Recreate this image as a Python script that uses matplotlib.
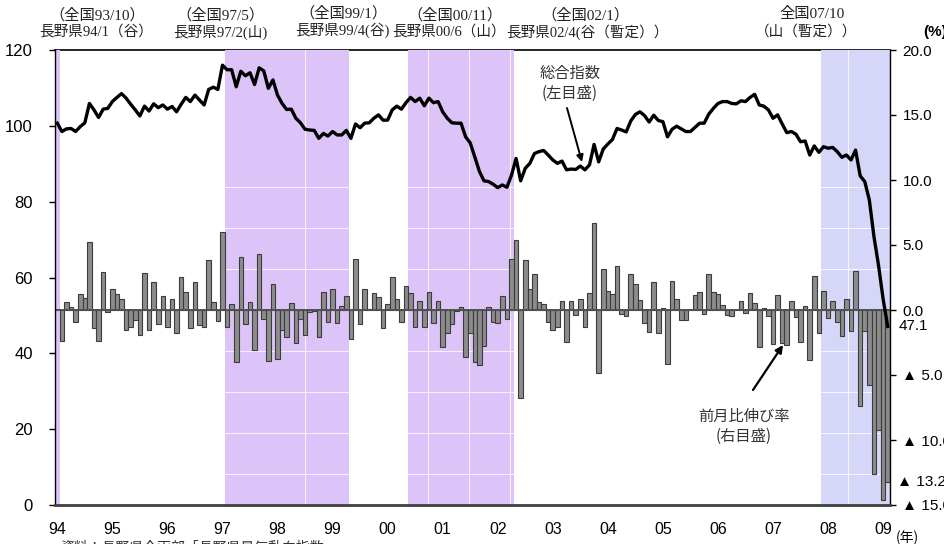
import numpy as np
import matplotlib
matplotlib.use("Agg")
import matplotlib.pyplot as plt
from matplotlib.transforms import blended_transform_factory

plt.rcParams["font.family"] = ["Liberation Sans", "Noto Sans CJK JP", "DejaVu Sans"]

# 長野県景気動向指数 一致指数(CI) 1994/1 - 2009/2 (左目盛)
ci_94 = [100.7, 98.5, 99.2, 99.3, 98.5, 99.8, 100.8, 105.9, 104.2, 102.2, 104.4, 104.6]
ci_95 = [106.4, 107.5, 108.5, 107.3, 105.7, 104.2, 102.6, 105.2, 103.9, 105.8, 104.8, 105.5]
ci_96 = [104.4, 105.1, 103.7, 105.7, 107.5, 106.4, 108.1, 106.8, 105.5, 109.6, 110.2, 109.6]
ci_97 = [116.0, 114.8, 114.8, 110.3, 114.4, 113.2, 114.0, 110.9, 115.3, 114.5, 109.9, 112.1]
ci_98 = [108.1, 105.9, 104.3, 104.4, 102.0, 100.8, 99.1, 98.9, 98.8, 96.7, 98.0, 97.3]
ci_99 = [98.5, 97.6, 97.6, 98.8, 96.7, 100.5, 99.5, 100.7, 100.8, 102.0, 102.9, 101.5]
ci_00 = [101.5, 104.2, 105.2, 104.4, 106.1, 107.5, 106.4, 107.3, 105.3, 107.3, 106.1, 106.4]
ci_01 = [103.7, 102.0, 100.8, 100.7, 100.7, 97.1, 95.5, 91.8, 88.0, 85.5, 85.3, 84.6]
ci_02 = [83.7, 84.4, 83.8, 87.0, 91.4, 85.5, 88.8, 90.1, 92.7, 93.2, 93.5, 92.3]
ci_03 = [91.0, 90.1, 90.7, 88.4, 88.6, 88.5, 89.4, 88.4, 89.7, 95.1, 90.5, 93.9]
ci_04 = [95.2, 96.4, 99.3, 98.9, 98.4, 101.3, 103.0, 103.7, 102.7, 101.0, 102.8, 101.4]
ci_05 = [101.1, 97.1, 99.1, 99.9, 99.2, 98.5, 98.5, 99.6, 100.7, 100.7, 103.1, 104.6]
ci_06 = [105.9, 106.4, 106.4, 105.9, 105.8, 106.6, 106.4, 107.5, 108.3, 105.5, 105.2, 104.2]
ci_07 = [102.0, 102.9, 100.5, 98.2, 98.5, 97.8, 95.8, 96.0, 92.3, 94.7, 93.0, 94.5]
ci_08 = [94.1, 94.3, 93.2, 91.7, 92.3, 91.0, 93.6, 86.8, 85.3, 80.4, 70.8, 63.2]
ci_09 = [54.3, 47.1]

# 前月比伸び率 (%, 右目盛)
chg_94 = [np.nan, -2.38, 0.64, 0.20, -0.90, 1.20, 0.95, 5.26, -1.41, -2.38, 2.95, -0.18]
chg_95 = [1.59, 1.20, 0.82, -1.54, -1.31, -0.77, -1.92, 2.82, -1.54, 2.18, -1.08, 1.08]
chg_96 = [-1.28, 0.82, -1.79, 2.51, 1.36, -1.41, 2.18, -1.15, -1.28, 3.82, 0.59, -0.82]
chg_97 = [6.03, -1.28, 0.44, -4.03, 4.05, -1.08, 0.64, -3.08, 4.28, -0.72, -3.92, 1.97]
chg_98 = [-3.77, -1.54, -2.10, 0.51, -2.56, -0.72, -1.92, -0.13, -0.10, -2.08, 1.36, -0.90]
chg_99 = [1.59, -1.03, 0.33, 1.10, -2.23, 3.90, -1.08, 1.59, 0.10, 1.33, 0.97, -1.41]
chg_00 = [0.44, 2.51, 0.82, -0.90, 1.87, 1.33, -1.28, 0.72, -1.33, 1.36, -1.03, 0.72]
chg_01 = [-2.82, -1.79, -1.10, -0.10, 0.20, -3.59, -1.79, -3.97, -4.23, -2.74, 0.20, -0.95]
chg_02 = [-1.03, 1.08, -0.69, 3.90, 5.38, -6.74, 3.85, 1.62, 2.74, 0.59, 0.46, -0.90]
chg_03 = [-1.54, -1.28, 0.69, -2.44, 0.69, -0.38, 0.85, -1.33, 1.33, 6.67, -4.82, 3.15]
chg_04 = [1.46, 1.23, 3.38, -0.31, -0.46, 2.77, 1.97, 0.77, -1.03, -1.67, 2.13, -1.79]
chg_05 = [0.13, -4.18, 2.23, 0.85, -0.79, -0.79, 0.00, 1.15, 1.36, -0.31, 2.74, 1.36]
chg_06 = [1.20, 0.38, -0.38, -0.44, 0.00, 0.72, -0.21, 1.33, 0.51, -2.82, 0.13, -0.44]
chg_07 = [-2.64, 1.15, -2.56, -2.69, 0.69, -0.56, -2.44, 0.33, -3.85, 2.62, -1.79, 1.46]
chg_08 = [-0.64, 0.72, -0.95, -2.00, 0.82, -1.59, 3.00, -7.36, -1.59, -5.80, -12.60, -9.20]
chg_09 = [-14.60, -13.20]

year_labels = ["94", "95", "96", "97", "98", "99", "00", "01",
               "02", "03", "04", "05", "06", "07", "08", "09"]

# 景気後退局面 (長野県の山〜谷)
slump_start = ["1994/1", "1997/2", "2000/6", "2007/12"]
slump_end = ["1994/1", "1999/4", "2002/4", "2009/2"]

national_labels = ["（全国93/10）", "（全国97/5）", "（全国99/1）",
                   "（全国00/11）", "（全国02/1）", "全国07/10"]
nagano_labels = ["長野県94/1（谷）", "長野県97/2(山)", "長野県99/4(谷)",
                 "長野県00/6（山）", "長野県02/4(谷（暫定））", "（山（暫定））"]

ci = np.array(ci_94 + ci_95 + ci_96 + ci_97 + ci_98 + ci_99 + ci_00 + ci_01
              + ci_02 + ci_03 + ci_04 + ci_05 + ci_06 + ci_07 + ci_08 + ci_09)
chg = np.array(chg_94 + chg_95 + chg_96 + chg_97 + chg_98 + chg_99 + chg_00 + chg_01
               + chg_02 + chg_03 + chg_04 + chg_05 + chg_06 + chg_07 + chg_08 + chg_09)
x = np.arange(len(ci))


def month_index(ym):
    y, m = ym.split("/")
    return (int(y) - 1994) * 12 + int(m) - 1


W, H = 944, 544
fig = plt.figure(figsize=(W / 100, H / 100), dpi=100)
ax = fig.add_axes([55 / W, 39 / H, 835 / W, 455 / H])
ax2 = ax.twinx()
ax.set_zorder(ax2.get_zorder() + 1)
ax.patch.set_visible(False)


def px(xp, yp):
    return (xp / W, 1 - yp / H)


# shaded slump periods
band_colors = ["#dcc4f8", "#dcc4f8", "#dcc4f8", "#d6d6f8"]
seam = blended_transform_factory(ax2.transData, ax2.transAxes)
for s, e, c in zip(slump_start, slump_end, band_colors):
    x0, x1 = month_index(s) - 0.5, month_index(e) + 0.5
    ax2.axvspan(x0, x1, color=c, lw=0, zorder=3)
    if x1 - x0 > 2:
        for f in np.arange(0.068, 0.70, 0.0901):
            ax2.plot([x0, x1], [f, f], transform=seam, color="white",
                     lw=0.7, alpha=0.8, zorder=3.2)
for xs in [54.0, 80.8, 89.7, 98.7, 172.3]:
    ax2.plot([xs, xs], [0, 1], transform=seam, color="white", lw=0.7,
             alpha=0.8, zorder=3.2)

# monthly change bars
ax2.bar(x, chg, width=1.0, color="#8c8c8c", edgecolor="#3c3c3c",
        linewidth=0.8, zorder=4)
ax2.axhline(0, color="#505050", lw=1.4, zorder=5)

# composite index line
ax.plot(x, ci, color="black", lw=2.4, solid_joinstyle="round", zorder=6)

ax.set_xlim(-0.5, len(ci) - 0.5)
ax.set_ylim(0, 120)
ax2.set_ylim(-15, 20)

ax.set_xticks(np.arange(0, len(ci), 12))
ax.set_xticklabels(year_labels)
ax.set_yticks(np.arange(0, 121, 20))
ax.tick_params(axis="x", length=0, pad=12, labelsize=11.5)
ax.tick_params(axis="y", direction="out", length=4, width=1, pad=12,
               labelsize=12)

r_ticks = np.arange(-15, 21, 5)
ax2.set_yticks(r_ticks)
ax2.set_yticklabels([f"▲ {abs(v):.1f}" if v < 0 else f"{v:.1f}" for v in r_ticks])
ax2.tick_params(axis="y", direction="out", length=4, width=1, pad=5,
                labelsize=11)

ax.spines["top"].set_visible(False)
for name in ["left", "right", "bottom"]:
    ax2.spines[name].set_visible(False)
ax2.spines["top"].set_color("black")
ax2.spines["top"].set_linewidth(1.2)
ax.spines["left"].set_linewidth(1.0)
ax.spines["right"].set_linewidth(1.0)
ax.spines["bottom"].set_color("#404040")
ax.spines["bottom"].set_linewidth(2.0)

# latest values next to the right axis
ax.annotate(f"{ci[-1]:.1f}", xy=(1, ci[-1]), xycoords=("axes fraction", "data"),
            xytext=(6, 0), textcoords="offset points", va="center", ha="left",
            fontsize=11)
ax2.annotate(f"▲ {abs(chg[-1]):.1f}", xy=(1, chg[-1]),
             xycoords=("axes fraction", "data"), xytext=(5, 0),
             textcoords="offset points", va="center", ha="left", fontsize=11)

# turning point labels
label_font = ["Liberation Serif", "Noto Sans CJK JP"]
row1 = [(97, 15), (220, 15), (343, 13), (455, 15), (585, 15), (812, 14)]
row2 = [(96, 32), (220, 32), (342, 30), (449, 32), (587, 32), (806, 32)]
for t, p in zip(national_labels, row1):
    fig.text(*px(*p), t, ha="center", va="center", fontsize=11,
             family=label_font, color="#222222")
for t, p in zip(nagano_labels, row2):
    fig.text(*px(*p), t, ha="center", va="center", fontsize=10.5,
             family=label_font, color="#222222")

fig.text(*px(923, 32), "(%)", ha="left", va="center", fontsize=11,
         fontweight="bold")
fig.text(*px(907, 538), "(年)", ha="center", va="center", fontsize=10,
         family=["Noto Sans CJK JP"])

# series callouts
fig.text(*px(570, 73), "総合指数", ha="center", va="center", fontsize=11,
         family=["Noto Sans CJK JP"], color="#333333")
fig.text(*px(570, 93), "(左目盛)", ha="center", va="center", fontsize=11,
         family=["Noto Sans CJK JP"], color="#333333")
ax.annotate("", xy=px(582, 162), xycoords="figure fraction",
            xytext=px(567, 108), textcoords="figure fraction",
            arrowprops=dict(arrowstyle="-|>", color="black", lw=1.4,
                            mutation_scale=10, shrinkA=0, shrinkB=0))

fig.text(*px(744, 416), "前月比伸び率", ha="center", va="center", fontsize=11,
         family=["Noto Sans CJK JP"], color="#333333")
fig.text(*px(744, 436), "(右目盛)", ha="center", va="center", fontsize=11,
         family=["Noto Sans CJK JP"], color="#333333")
ax.annotate("", xy=px(783, 345), xycoords="figure fraction",
            xytext=px(753, 390), textcoords="figure fraction",
            arrowprops=dict(arrowstyle="-|>", color="black", lw=1.6,
                            mutation_scale=11, shrinkA=0, shrinkB=0))

fig.text(*px(60, 548), "資料：長野県企画部「長野県景気動向指数」", ha="left",
         va="center", fontsize=10, family=["Noto Sans CJK JP"], color="#333333")

fig.savefig("out.png", dpi=100)
